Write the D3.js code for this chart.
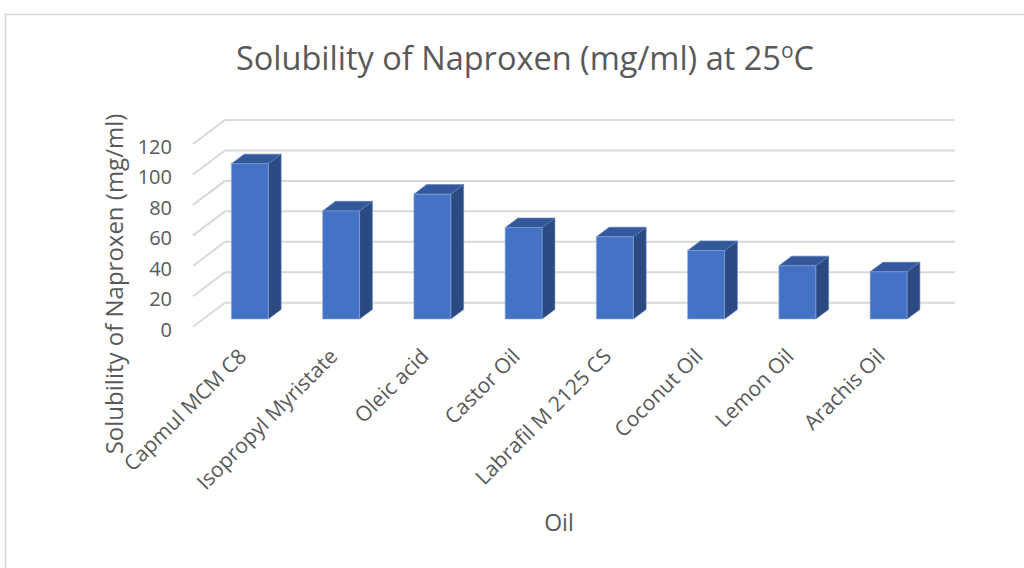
<!DOCTYPE html>
<html><head><meta charset="utf-8">
<script src="https://cdn.jsdelivr.net/npm/d3@7"></script>
<style>body{margin:0;background:#fff}svg{display:block}text{font-family:"Open Sans",sans-serif;fill:#595959}</style>
</head><body><svg id="c" width="1024" height="568"></svg>
<script>
const categories = ["Capmul MCM C8","Isopropyl Myristate","Oleic acid","Castor Oil","Labrafil M 2125 CS","Coconut Oil","Lemon Oil","Arachis Oil"];
const values = [102,71,82,60,54,45,35,31];
const yTicks = [0,20,40,60,80,100,120];
const titleMain = "Solubility of Naproxen (mg/ml) at 25";
const titleSup = "o";
const titleEnd = "C";
const yTitle = "Solubility of Naproxen (mg/ml)";
const xTitle = "Oil";

const svg = d3.select("#c");
// chart frame
svg.append("path").attr("d","M5.5,568 V14.5 H1024").attr("fill","none").attr("stroke","#d9d9d9").attr("stroke-width",1.5);

const x = d3.scaleBand().domain(categories).range([225,955]);
const y = d3.scaleLinear().domain([0,120]).range([302.7,120]);
const DX = -32, DY = 24; // full depth offset (back wall -> front)
const P = (xv, yv, z) => [xv + DX*z, yv + DY*z];

// back wall gridlines and side wall diagonals
const g = svg.append("g").attr("stroke","#d9d9d9").attr("stroke-width",2).attr("fill","none");
yTicks.forEach(t=>{
  g.append("line").attr("x1",x.range()[0]).attr("x2",x.range()[1]).attr("y1",y(t)).attr("y2",y(t));
  const f = P(x.range()[0], y(t), 1);
  g.append("line").attr("x1",x.range()[0]).attr("y1",y(t)).attr("x2",f[0]).attr("y2",f[1]);
});

// y tick labels
svg.append("g").selectAll("text").data(yTicks).join("text")
  .attr("x",172).attr("y",d=>P(0,y(d),1)[1]+2.5).attr("text-anchor","end").attr("dominant-baseline","central")
  .attr("font-size",20).text(d=>d);

// bars
const zF = 0.68, zB = 0.28, bw = x.bandwidth()*0.405;
const bars = svg.append("g");
categories.forEach((c,i)=>{
  const v = values[i];
  const x0 = x(c) + (x.bandwidth()-bw)/2 + 1, x1 = x0 + bw;
  const fTL = P(x0,y(v),zF), fTR = P(x1,y(v),zF), fBR = P(x1,y(0),zF), fBL = P(x0,y(0),zF);
  const bTL = P(x0,y(v),zB), bTR = P(x1,y(v),zB), bBR = P(x1,y(0),zB);
  const poly = pts => "M"+pts.map(p=>p.join(",")).join("L")+"Z";
  bars.append("path").attr("d",poly([fTR,bTR,bBR,fBR])).attr("fill","#2b4a81").attr("stroke","#5a7fc0").attr("stroke-width",0.6);
  bars.append("path").attr("d",poly([fTL,bTL,bTR,fTR])).attr("fill","#33589c").attr("stroke","#5a7fc0").attr("stroke-width",0.6);
  bars.append("path").attr("d",poly([fTL,fTR,fBR,fBL])).attr("fill","#4472c4").attr("stroke","#8faadc").attr("stroke-width",0.6);
});

// category labels
svg.append("g").selectAll("text").data(categories).join("text")
  .attr("transform",d=>{const p=P(x(d)+x.bandwidth()/2, y(0), 1); return `translate(${p[0]+9},${p[1]+31}) rotate(-45)`;})
  .attr("text-anchor","end").attr("font-size",21).text(d=>d);

// title
const t = svg.append("text").attr("x",525).attr("y",70).attr("text-anchor","middle").attr("font-size",32.5);
t.append("tspan").text(titleMain);
t.append("tspan").attr("font-size",21).attr("dy",-12).text(titleSup);
t.append("tspan").attr("dy",12).text(titleEnd);

// axis titles
svg.append("text").attr("transform","translate(123,284) rotate(-90)").attr("text-anchor","middle").attr("font-size",24).text(yTitle);
svg.append("text").attr("x",559).attr("y",531).attr("text-anchor","middle").attr("font-size",23).text(xTitle);
</script></body></html>
